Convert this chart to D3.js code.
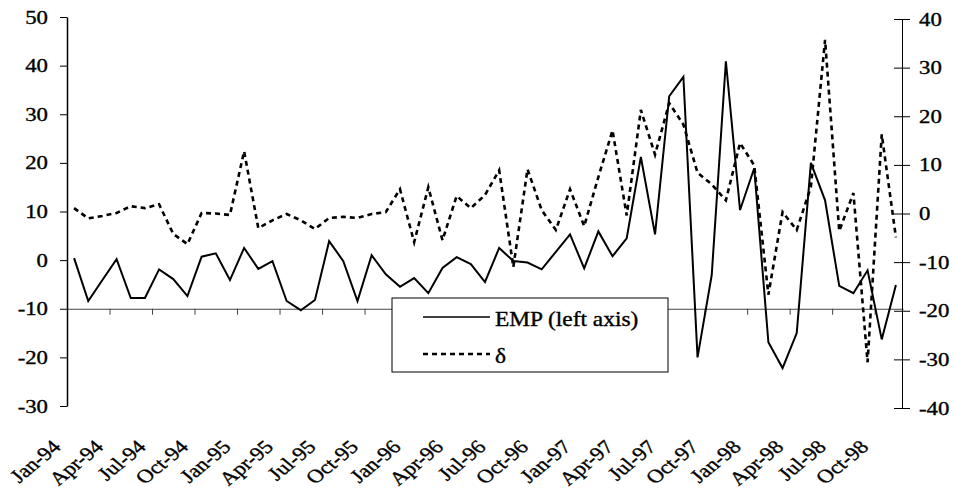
<!DOCTYPE html>
<html>
<head>
<meta charset="utf-8">
<script src="https://cdn.jsdelivr.net/npm/d3@7"></script>
<style>
  body { margin: 0; background: #fff; }
  text { font-family: "Liberation Serif", "Times New Roman", serif; fill: #000; stroke: #000; stroke-width: 0.35px; }
</style>
</head>
<body>
<div id="chart"></div>
<script>
// Categories: monthly, Jan-94 to Nov-98
const months = [
  "Jan-94","Feb-94","Mar-94","Apr-94","May-94","Jun-94","Jul-94","Aug-94","Sep-94","Oct-94","Nov-94","Dec-94",
  "Jan-95","Feb-95","Mar-95","Apr-95","May-95","Jun-95","Jul-95","Aug-95","Sep-95","Oct-95","Nov-95","Dec-95",
  "Jan-96","Feb-96","Mar-96","Apr-96","May-96","Jun-96","Jul-96","Aug-96","Sep-96","Oct-96","Nov-96","Dec-96",
  "Jan-97","Feb-97","Mar-97","Apr-97","May-97","Jun-97","Jul-97","Aug-97","Sep-97","Oct-97","Nov-97","Dec-97",
  "Jan-98","Feb-98","Mar-98","Apr-98","May-98","Jun-98","Jul-98","Aug-98","Sep-98","Oct-98","Nov-98"
];
const labelMonths = [
  "Jan-94","Apr-94","Jul-94","Oct-94","Jan-95","Apr-95","Jul-95","Oct-95","Jan-96","Apr-96",
  "Jul-96","Oct-96","Jan-97","Apr-97","Jul-97","Oct-97","Jan-98","Apr-98","Jul-98","Oct-98"
];

// EMP, left axis
const emp = [
  0.4, -8.4, -4.1, 0.2, -7.8, -7.8, -1.9, -3.9, -7.4, 0.7, 1.4, -4.1,
  2.5, -1.8, -0.2, -8.4, -10.3, -8.2, 3.9, -0.2, -8.4, 1.0, -2.9, -5.5,
  -3.7, -6.8, -1.6, 0.6, -0.8, -4.5, 2.5, -0.2, -0.5, -1.9, 1.7, 5.3,
  -1.7, 5.9, 0.8, 4.5, 21.2, 5.3, 33.7, 37.7, -20.0, -3.1, 40.9, 10.3,
  18.9, -16.9, -22.2, -15.0, 20.0, 12.3, -5.3, -6.8, -2.1, -16.3, -5.1
];

// delta, right axis
const delta = [
  1.1, -1.0, -0.5, 0.1, 1.5, 1.1, 1.9, -4.2, -6.3, 0.1, 0.0, -0.3,
  12.8, -3.0, -1.4, -0.1, -1.4, -3.2, -0.9, -0.7, -0.9, -0.1, 0.3, 5.0,
  -5.9, 5.4, -5.5, 3.6, 1.1, 3.8, 8.9, -11.0, 9.1, 0.7, -3.4, 5.0,
  -2.6, 7.5, 17.1, -0.4, 21.3, 12.1, 22.7, 18.3, 8.4, 6.0, 2.7, 14.5,
  9.9, -16.7, 0.3, -3.4, 5.5, 35.7, -3.6, 4.2, -30.6, 16.3, -4.9
];

const leftTicks = [-30, -20, -10, 0, 10, 20, 30, 40, 50];
const rightTicks = [-40, -30, -20, -10, 0, 10, 20, 30, 40];
const boundaryTicks = [0, 3, 6, 9, 12, 15, 18, 21, 24, 27, 30, 33, 36, 39, 42, 45, 48, 51, 54, 57];

const width = 955, height = 495;
const plot = { left: 67, right: 903, top: 17, bottom: 406 };
const stretch = 1.2; // the scanned text is wider than it is tall

const svg = d3.select("#chart").append("svg")
  .attr("width", width)
  .attr("height", height);

const x = d3.scaleBand().domain(months).range([plot.left, plot.right]).padding(0);
const xEdge = d3.scaleLinear().domain([0, months.length]).range([plot.left, plot.right]);
const yLeft = d3.scaleLinear().domain([-30, 50]).range([plot.bottom, plot.top]);
const yRight = d3.scaleLinear().domain([-40, 40]).range([plot.bottom + 2, plot.top + 2]);
const cx = (i) => x(months[i]) + x.bandwidth() / 2;

// category axis crossing at -10
const xAxis = svg.append("g")
  .attr("transform", `translate(0,${yLeft(-10)})`)
  .call(d3.axisBottom(xEdge).tickValues(boundaryTicks).tickSize(6).tickSizeOuter(0).tickFormat(""));
xAxis.select(".domain").attr("stroke", "#444").attr("stroke-width", 1);
xAxis.selectAll(".tick line").attr("stroke", "#444");

// month labels along the bottom
const xLabels = svg.append("g")
  .attr("transform", `translate(0,${plot.bottom + 42})`)
  .call(d3.axisBottom(x).tickValues(labelMonths).tickSize(0));
xLabels.select(".domain").remove();
xLabels.selectAll("text")
  .attr("x", 0).attr("y", 0).attr("dy", 0)
  .attr("text-anchor", "end")
  .attr("font-size", 19)
  .attr("transform", `translate(-12,0) scale(${stretch},1) rotate(-45)`);

// left axis
const leftAxis = svg.append("g")
  .attr("transform", `translate(${plot.left},0)`)
  .call(d3.axisLeft(yLeft).tickValues(leftTicks).tickSize(7).tickSizeOuter(0).tickFormat((d) => String(d)));
leftAxis.select(".domain").attr("stroke-width", 1.5);
leftAxis.selectAll("text")
  .attr("font-size", 19)
  .attr("x", -19 / stretch)
  .attr("transform", `scale(${stretch},1)`);

// right axis with crossing ticks
const rightAxis = svg.append("g")
  .attr("transform", `translate(${plot.right - 1},0)`)
  .call(d3.axisRight(yRight).tickValues(rightTicks).tickSize(7).tickSizeOuter(0).tickFormat((d) => String(d)));
rightAxis.selectAll(".tick line").attr("x1", -8).attr("x2", 8);
rightAxis.selectAll("text")
  .attr("font-size", 19)
  .attr("x", 17 / stretch)
  .attr("transform", `scale(${stretch},1)`);

// series
const empLine = d3.line().x((d, i) => cx(i)).y((d) => yLeft(d));
const deltaLine = d3.line().x((d, i) => cx(i)).y((d) => yRight(d));

svg.append("path")
  .datum(delta)
  .attr("fill", "none")
  .attr("stroke", "#000")
  .attr("stroke-width", 2.6)
  .attr("stroke-dasharray", "5,4")
  .attr("d", deltaLine);

svg.append("path")
  .datum(emp)
  .attr("fill", "none")
  .attr("stroke", "#000")
  .attr("stroke-width", 2)
  .attr("stroke-linejoin", "miter")
  .attr("d", empLine);

// legend
const legend = svg.append("g").attr("transform", "translate(392,298)");
legend.append("rect")
  .attr("width", 276).attr("height", 74)
  .attr("fill", "#fff").attr("stroke", "#000").attr("stroke-width", 1);

const legendItems = [
  { label: "EMP (left axis)", dash: null, y: 19 },
  { label: "δ", dash: "5,4", y: 56 }
];
legendItems.forEach(function (d) {
  legend.append("line")
    .attr("x1", 31).attr("x2", 98)
    .attr("y1", d.y).attr("y2", d.y)
    .attr("stroke", "#000")
    .attr("stroke-width", d.dash ? 2.6 : 1.6)
    .attr("stroke-dasharray", d.dash);
  legend.append("text")
    .attr("transform", `translate(103,${d.y + 9}) scale(1.17,1)`)
    .attr("font-size", 20)
    .text(d.label);
});
</script>
</body>
</html>
